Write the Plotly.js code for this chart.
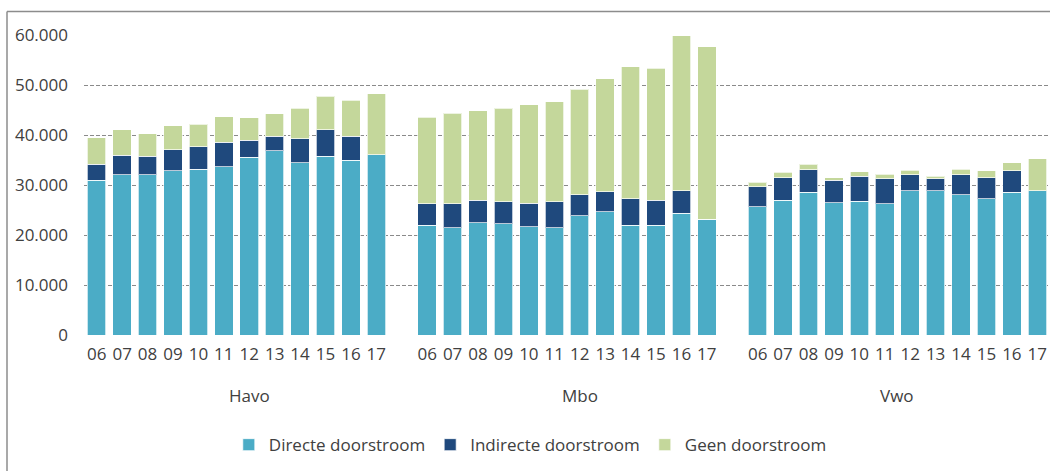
<!DOCTYPE html>
<html>
<head>
<meta charset="utf-8">
<script src="https://cdn.plot.ly/plotly-3.0.1.min.js"></script>
<style>
  html, body { margin: 0; padding: 0; background: #fff; }
  #chart { width: 1050px; height: 471px; }
</style>
</head>
<body>
<div id="chart"></div>
<script>
// ---- data ----
const groups = ["Havo", "Mbo", "Vwo"];
const years = ["06", "07", "08", "09", "10", "11", "12", "13", "14", "15", "16", "17"];

const havoDirecte   = [31000, 32100, 32100, 32900, 33200, 33700, 35600, 36900, 34500, 35800, 35000, 36100];
const havoIndirecte = [3200, 3900, 3700, 4200, 4500, 4900, 3400, 2900, 4800, 5300, 4800, 0];
const havoGeen      = [5300, 5100, 4500, 4800, 4500, 5100, 4500, 4500, 6100, 6700, 7200, 12200];

const mboDirecte    = [22000, 21500, 22500, 22300, 21700, 21500, 23900, 24700, 22000, 22000, 24400, 23200];
const mboIndirecte  = [4300, 4800, 4500, 4400, 4700, 5200, 4200, 4000, 5300, 5000, 4500, 0];
const mboGeen       = [17300, 18100, 17900, 18700, 19700, 20000, 21100, 22600, 26400, 26400, 31000, 34500];

const vwoDirecte    = [25700, 27000, 28600, 26500, 26800, 26300, 28900, 28900, 28100, 27300, 28600, 28900];
const vwoIndirecte  = [4000, 4500, 4500, 4500, 5000, 5000, 3200, 2400, 4000, 4200, 4300, 0];
const vwoGeen       = [900, 1100, 1100, 500, 900, 900, 900, 500, 1100, 1400, 1600, 6400];

const seriesNames = ["Directe doorstroom", "Indirecte doorstroom", "Geen doorstroom"];
const seriesColors = ["#4BACC6", "#1F497D", "#C4D79B"];

// ---- build positions: each group has 12 years, one empty slot between groups ----
const slotsPerGroup = years.length + 1;
const xPos = [], tickText = [];
groups.forEach((g, gi) => {
  years.forEach((y, yi) => {
    xPos.push(gi * slotsPerGroup + yi);
    tickText.push(y);
  });
});

const seriesData = [
  havoDirecte.concat(mboDirecte, vwoDirecte),
  havoIndirecte.concat(mboIndirecte, vwoIndirecte),
  havoGeen.concat(mboGeen, vwoGeen)
];

const FONT = "Open Sans, sans-serif";
const TXT = "#404040";
const FS = 17;

const traces = seriesNames.map((name, i) => ({
  type: "bar",
  name: name,
  x: xPos,
  y: seriesData[i],
  marker: { color: seriesColors[i], line: { color: "rgba(255,255,255,0.7)", width: 1 } },
  hoverinfo: "y+name"
}));

const lastX = xPos[xPos.length - 1];

// group label annotations, centred over each group's 13 slots (last group 12)
const annotations = groups.map((g, gi) => {
  const start = gi * slotsPerGroup;
  const end = gi < groups.length - 1 ? start + slotsPerGroup - 1 : start + years.length - 1;
  return {
    text: g, x: (start + end) / 2, xref: "x", y: -0.2, yref: "paper",
    showarrow: false, xanchor: "center", yanchor: "middle",
    font: { family: FONT, size: FS, color: TXT }
  };
});

const layout = {
  width: 1050, height: 471,
  margin: { l: 84, r: 0, t: 35, b: 136 },
  paper_bgcolor: "#ffffff",
  plot_bgcolor: "#ffffff",
  barmode: "stack",
  bargap: 0.27,
  font: { family: FONT, size: FS, color: TXT },
  xaxis: {
    range: [-0.5, lastX + 0.5],
    tickvals: xPos, ticktext: tickText,
    tickangle: 0,
    ticks: "", ticklen: 0,
    ticklabelstandoff: 7,
    showgrid: false, zeroline: false, showline: false,
    tickfont: { family: FONT, size: FS, color: TXT },
    fixedrange: true
  },
  yaxis: {
    range: [0, 60000],
    tickvals: [0, 10000, 20000, 30000, 40000, 50000, 60000],
    ticktext: ["0", "10.000", "20.000", "30.000", "40.000", "50.000", "60.000"],
    showgrid: true, gridcolor: "#8a8a8a", griddash: "4px,2px", gridwidth: 1,
    zeroline: false, showline: false, ticks: "",
    ticklabelstandoff: 15,
    tickfont: { family: FONT, size: FS, color: TXT },
    fixedrange: true
  },
  showlegend: true,
  legend: {
    orientation: "h",
    x: 0.462, xanchor: "center",
    y: -0.367, yanchor: "middle",
    font: { family: FONT, size: FS, color: TXT },
    itemwidth: 30,
    traceorder: "normal",
    bgcolor: "rgba(0,0,0,0)"
  },
  annotations: annotations,
  shapes: [
    // outer frame of the chart box (top and left edges visible)
    { type: "line", xref: "paper", yref: "paper", x0: (7 - 84) / 966, x1: 1.01, y0: (335 - 11.5) / 300, y1: (335 - 11.5) / 300,
      line: { color: "#8c8c8c", width: 1.5 } },
    { type: "line", xref: "paper", yref: "paper", x0: (7 - 84) / 966, x1: (7 - 84) / 966, y0: (335 - 11.5) / 300, y1: -0.5,
      line: { color: "#8c8c8c", width: 1.5 } }
  ]
};

Plotly.newPlot("chart", traces, layout, { displayModeBar: false, staticPlot: true });
</script>
</body>
</html>
